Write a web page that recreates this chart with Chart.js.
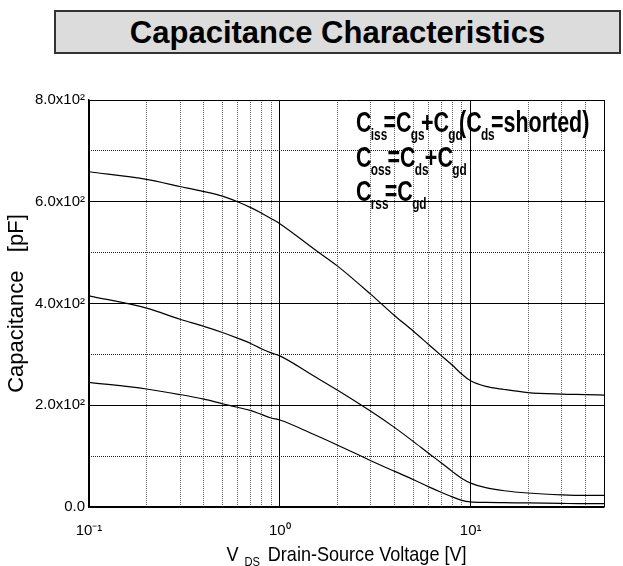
<!DOCTYPE html>
<html><head><meta charset="utf-8">
<script src="https://cdn.jsdelivr.net/npm/chart.js@4/dist/chart.umd.min.js"></script>
<style>
html,body{margin:0;padding:0;background:#fff;}
#wrap{position:relative;width:623px;height:566px;}
#title{position:absolute;left:54px;top:10px;width:563px;height:40px;background:#dcdcdc;border:2px solid #333;font:bold 31px "Liberation Sans",Arial,sans-serif;text-align:center;line-height:42px;color:#000;z-index:2;}
canvas{position:absolute;left:0;top:0;}
</style></head><body>
<div id="wrap"><div id="title">Capacitance Characteristics</div><canvas id="c" width="623" height="566"></canvas></div>
<script>
// ---- data ----
const vds  = [0.1,0.2,0.3,0.4,0.5,0.6,0.7,0.8,0.9,1,1.5,2,3,4,5,6,7,8,9,10,12,15,20,30,40,50];
const ciss = [659,644,630,620,611,600,589,578,567,557,508,474,418,376,346,320,298,279,261,248,237,231,225,222,221,220];
const coss = [415,391,369,355,343,332,322,311,303,297,258,230,188,156,129,106,87,70,56,47,38,32,27.5,24,23,23];
const crss = [245,232,221,212,203,196,190,182,175,171,143,122,91,70,54,40,29,20,13,10,9,8.5,8,7,6.5,6.5];
const xMajorTicks = [0.1,1,10,50];
const xTickLabels = ['10\u207B\u00B9','10\u2070','10\u00B9',''];
const xMinorTicks = [0.2,0.3,0.4,0.5,0.6,0.7,0.8,0.9,2,3,4,5,6,7,8,9,20,30,40];
const yMajorTicks = [0,200,400,600,800];
const yTickLabels = ['0.0','2.0x10\u00B2','4.0x10\u00B2','6.0x10\u00B2','8.0x10\u00B2'];
const yMinorTicks = [100,300,500,700];
const legendRows = [
  [['C',0],['iss',1],['=C',0],['gs',1],['+C',0],['gd',1],['(C',0],['ds',1],['=shorted)',0]],
  [['C',0],['oss',1],['=C',0],['ds',1],['+C',0],['gd',1]],
  [['C',0],['rss',1],['=C',0],['gd',1]]
];
const xTitleMain = 'V', xTitleSub = 'DS', xTitleRest = 'Drain-Source Voltage [V]';

const REG = '"Liberation Sans",Arial,sans-serif';

function mk(v){ return vds.map((x,i)=>({x:x,y:v[i]})); }
const lineStyle = {borderColor:'#000',borderWidth:1.2,pointRadius:0,showLine:true,fill:false,cubicInterpolationMode:'monotone'};

const textPlugin = {
  id:'texts',
  afterDraw(chart){
    const ctx = chart.ctx, ca = chart.chartArea;
    ctx.save();
    ctx.fillStyle = '#000';
    ctx.textBaseline = 'alphabetic';
    // legend formulas (condensed)
    const sx = 0.74;
    const baselines = [132,167,201];
    legendRows.forEach((row,ri)=>{
      ctx.save();
      ctx.translate(356, baselines[ri]);
      ctx.scale(sx,1);
      let x = 0;
      row.forEach(([t,sub])=>{
        ctx.font = sub ? 'bold 16px '+REG : 'bold 29px '+REG;
        ctx.fillText(t, x, sub ? 8 : 0);
        x += ctx.measureText(t).width + (sub ? -5 : -1);
      });
      ctx.restore();
    });
    // x axis title with subscript (condensed)
    const tx = 0.86;
    const fMain = '21px '+REG, fSub = '13px '+REG;
    ctx.font = fMain; const wV = ctx.measureText(xTitleMain).width;
    const wR = ctx.measureText(xTitleRest).width;
    ctx.font = fSub; const wS = ctx.measureText(xTitleSub).width;
    const gap1 = 7, gap2 = 9;
    const total = (wV+gap1+wS+gap2+wR)*tx;
    ctx.save();
    ctx.translate((ca.left+ca.right)/2 - total/2, 561);
    ctx.scale(tx,1);
    ctx.font = fMain; ctx.fillText(xTitleMain, 0, 0);
    ctx.font = fSub; ctx.fillText(xTitleSub, wV+gap1, 5);
    ctx.font = fMain; ctx.fillText(xTitleRest, wV+gap1+wS+gap2, 0);
    ctx.restore();
    ctx.restore();
  }
};

new Chart(document.getElementById('c'), {
  type:'scatter',
  data:{datasets:[
    Object.assign({label:'Ciss',data:mk(ciss)},lineStyle),
    Object.assign({label:'Coss',data:mk(coss)},lineStyle),
    Object.assign({label:'Crss',data:mk(crss)},lineStyle)
  ]},
  options:{
    responsive:false, animation:false, devicePixelRatio:1,
    layout:{padding:{top:100,right:19,bottom:0,left:0}},
    plugins:{legend:{display:false},tooltip:{enabled:false},title:{display:false}},
    scales:{
      x:{type:'logarithmic',position:'bottom',min:0.1,max:50,
        afterBuildTicks(s){ s.ticks = xMajorTicks.map(v=>({value:v})); },
        afterFit(s){ s.height = 59; },
        ticks:{autoSkip:false,maxRotation:0,padding:15,color:'#000',font:{family:REG,size:15},
          callback:(v,i)=>xTickLabels[i]},
        grid:{drawTicks:false,color:'#000',lineWidth:1},
        border:{display:true,color:'#000',width:1.5}
      },
      x2:{type:'logarithmic',position:'bottom',min:0.1,max:50,
        afterBuildTicks(s){ s.ticks = xMinorTicks.map(v=>({value:v})); },
        afterFit(s){ s.height = 0; },
        ticks:{display:false},
        grid:{drawTicks:false,color:'#666',lineWidth:1},
        border:{display:false,dash:[1,1]}
      },
      y:{type:'linear',position:'left',min:0,max:800,
        afterBuildTicks(s){ s.ticks = yMajorTicks.map(v=>({value:v})); },
        afterFit(s){ s.width = 89; },
        ticks:{padding:4,color:'#000',font:{family:REG,size:15},callback:(v,i)=>yTickLabels[i]},
        grid:{drawTicks:false,color:'#000',lineWidth:1},
        border:{display:true,color:'#000',width:1.5},
        title:{display:true,text:'Capacitance   [pF]',color:'#000',font:{family:REG,size:22},padding:{top:4,bottom:0}}
      },
      y2:{type:'linear',position:'left',min:0,max:800,
        afterBuildTicks(s){ s.ticks = yMinorTicks.map(v=>({value:v})); },
        afterFit(s){ s.width = 0; },
        ticks:{display:false},
        grid:{drawTicks:false,color:'#222',lineWidth:1},
        border:{display:false,dash:[1,1]}
      }
    }
  },
  plugins:[textPlugin]
});
</script>
</body></html>
